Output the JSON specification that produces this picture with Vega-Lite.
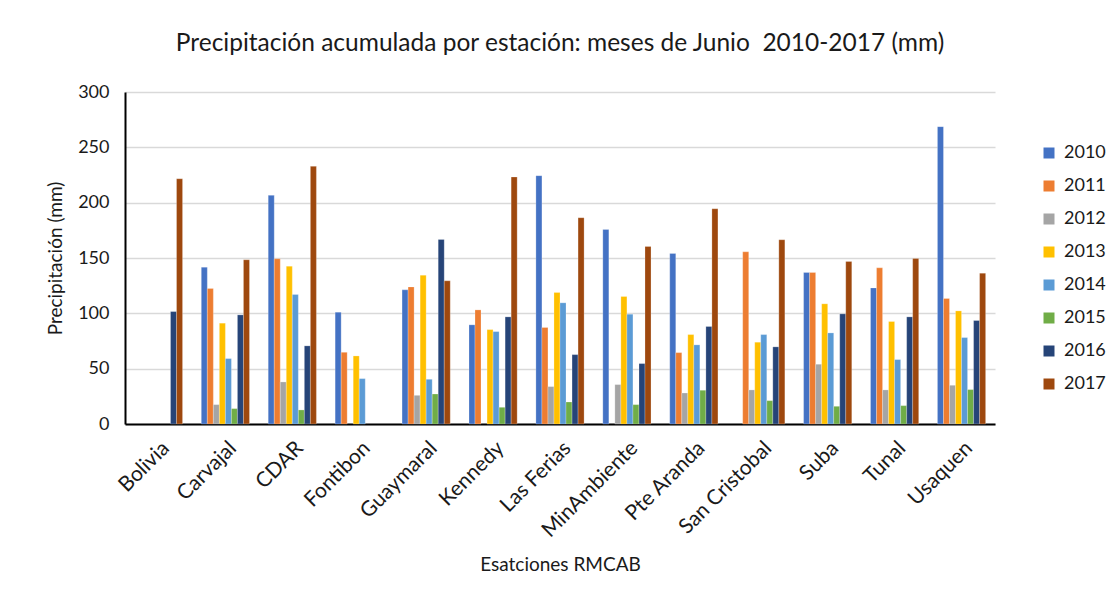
{
  "$schema": "https://vega.github.io/schema/vega-lite/v6.json",
  "autosize": "none",
  "width": 870,
  "height": 332,
  "padding": {"left": 125, "top": 92, "right": 113, "bottom": 179},
  "background": "white",
  "title": {
    "text": "Precipitación acumulada por estación: meses de Junio\u00a0 2010-2017 (mm)",
    "font": "Lato",
    "fontSize": 24.5,
    "fontWeight": "normal",
    "color": "#1a1a1a",
    "anchor": "middle",
    "offset": 27
  },
  "datasets": {
    "precip": [
      {"estacion": "Bolivia", "anio": "2016", "mm": 101.6},
      {"estacion": "Bolivia", "anio": "2017", "mm": 221.6},
      {"estacion": "Carvajal", "anio": "2010", "mm": 141.7},
      {"estacion": "Carvajal", "anio": "2011", "mm": 122.4},
      {"estacion": "Carvajal", "anio": "2012", "mm": 17.5},
      {"estacion": "Carvajal", "anio": "2013", "mm": 91.1},
      {"estacion": "Carvajal", "anio": "2014", "mm": 59.1},
      {"estacion": "Carvajal", "anio": "2015", "mm": 13.9},
      {"estacion": "Carvajal", "anio": "2016", "mm": 98.6},
      {"estacion": "Carvajal", "anio": "2017", "mm": 148.4},
      {"estacion": "CDAR", "anio": "2010", "mm": 206.6},
      {"estacion": "CDAR", "anio": "2011", "mm": 149.3},
      {"estacion": "CDAR", "anio": "2012", "mm": 38.0},
      {"estacion": "CDAR", "anio": "2013", "mm": 142.6},
      {"estacion": "CDAR", "anio": "2014", "mm": 117.0},
      {"estacion": "CDAR", "anio": "2015", "mm": 12.7},
      {"estacion": "CDAR", "anio": "2016", "mm": 70.6},
      {"estacion": "CDAR", "anio": "2017", "mm": 232.8},
      {"estacion": "Fontibon", "anio": "2010", "mm": 101.0},
      {"estacion": "Fontibon", "anio": "2011", "mm": 64.8},
      {"estacion": "Fontibon", "anio": "2013", "mm": 61.5},
      {"estacion": "Fontibon", "anio": "2014", "mm": 41.0},
      {"estacion": "Guaymaral", "anio": "2010", "mm": 121.2},
      {"estacion": "Guaymaral", "anio": "2011", "mm": 123.9},
      {"estacion": "Guaymaral", "anio": "2012", "mm": 25.9},
      {"estacion": "Guaymaral", "anio": "2013", "mm": 134.5},
      {"estacion": "Guaymaral", "anio": "2014", "mm": 40.4},
      {"estacion": "Guaymaral", "anio": "2015", "mm": 27.1},
      {"estacion": "Guaymaral", "anio": "2016", "mm": 166.8},
      {"estacion": "Guaymaral", "anio": "2017", "mm": 129.4},
      {"estacion": "Kennedy", "anio": "2010", "mm": 89.6},
      {"estacion": "Kennedy", "anio": "2011", "mm": 103.1},
      {"estacion": "Kennedy", "anio": "2013", "mm": 85.3},
      {"estacion": "Kennedy", "anio": "2014", "mm": 83.5},
      {"estacion": "Kennedy", "anio": "2015", "mm": 15.1},
      {"estacion": "Kennedy", "anio": "2016", "mm": 96.8},
      {"estacion": "Kennedy", "anio": "2017", "mm": 223.2},
      {"estacion": "Las Ferias", "anio": "2010", "mm": 224.4},
      {"estacion": "Las Ferias", "anio": "2011", "mm": 87.2},
      {"estacion": "Las Ferias", "anio": "2012", "mm": 33.8},
      {"estacion": "Las Ferias", "anio": "2013", "mm": 118.8},
      {"estacion": "Las Ferias", "anio": "2014", "mm": 109.5},
      {"estacion": "Las Ferias", "anio": "2015", "mm": 19.9},
      {"estacion": "Las Ferias", "anio": "2016", "mm": 62.7},
      {"estacion": "Las Ferias", "anio": "2017", "mm": 186.4},
      {"estacion": "MinAmbiente", "anio": "2010", "mm": 175.8},
      {"estacion": "MinAmbiente", "anio": "2012", "mm": 35.6},
      {"estacion": "MinAmbiente", "anio": "2013", "mm": 115.2},
      {"estacion": "MinAmbiente", "anio": "2014", "mm": 99.2},
      {"estacion": "MinAmbiente", "anio": "2015", "mm": 17.5},
      {"estacion": "MinAmbiente", "anio": "2016", "mm": 54.6},
      {"estacion": "MinAmbiente", "anio": "2017", "mm": 160.4},
      {"estacion": "Pte Aranda", "anio": "2010", "mm": 154.1},
      {"estacion": "Pte Aranda", "anio": "2011", "mm": 64.5},
      {"estacion": "Pte Aranda", "anio": "2012", "mm": 28.0},
      {"estacion": "Pte Aranda", "anio": "2013", "mm": 80.8},
      {"estacion": "Pte Aranda", "anio": "2014", "mm": 71.5},
      {"estacion": "Pte Aranda", "anio": "2015", "mm": 30.5},
      {"estacion": "Pte Aranda", "anio": "2016", "mm": 88.1},
      {"estacion": "Pte Aranda", "anio": "2017", "mm": 194.5},
      {"estacion": "San Cristobal", "anio": "2011", "mm": 155.6},
      {"estacion": "San Cristobal", "anio": "2012", "mm": 30.8},
      {"estacion": "San Cristobal", "anio": "2013", "mm": 73.9},
      {"estacion": "San Cristobal", "anio": "2014", "mm": 80.8},
      {"estacion": "San Cristobal", "anio": "2015", "mm": 21.1},
      {"estacion": "San Cristobal", "anio": "2016", "mm": 69.7},
      {"estacion": "San Cristobal", "anio": "2017", "mm": 166.5},
      {"estacion": "Suba", "anio": "2010", "mm": 136.9},
      {"estacion": "Suba", "anio": "2011", "mm": 136.9},
      {"estacion": "Suba", "anio": "2012", "mm": 54.0},
      {"estacion": "Suba", "anio": "2013", "mm": 108.6},
      {"estacion": "Suba", "anio": "2014", "mm": 82.3},
      {"estacion": "Suba", "anio": "2015", "mm": 16.0},
      {"estacion": "Suba", "anio": "2016", "mm": 99.5},
      {"estacion": "Suba", "anio": "2017", "mm": 146.9},
      {"estacion": "Tunal", "anio": "2010", "mm": 123.0},
      {"estacion": "Tunal", "anio": "2011", "mm": 141.1},
      {"estacion": "Tunal", "anio": "2012", "mm": 30.8},
      {"estacion": "Tunal", "anio": "2013", "mm": 92.6},
      {"estacion": "Tunal", "anio": "2014", "mm": 58.2},
      {"estacion": "Tunal", "anio": "2015", "mm": 16.6},
      {"estacion": "Tunal", "anio": "2016", "mm": 96.8},
      {"estacion": "Tunal", "anio": "2017", "mm": 149.6},
      {"estacion": "Usaquen", "anio": "2010", "mm": 268.7},
      {"estacion": "Usaquen", "anio": "2011", "mm": 113.4},
      {"estacion": "Usaquen", "anio": "2012", "mm": 35.0},
      {"estacion": "Usaquen", "anio": "2013", "mm": 102.2},
      {"estacion": "Usaquen", "anio": "2014", "mm": 78.1},
      {"estacion": "Usaquen", "anio": "2015", "mm": 31.1},
      {"estacion": "Usaquen", "anio": "2016", "mm": 93.5},
      {"estacion": "Usaquen", "anio": "2017", "mm": 136.3}
    ]
  },
  "data": {"name": "precip"},
  "mark": {"type": "bar", "stroke": "white", "strokeWidth": 0.4, "strokeOpacity": 0.6},
  "encoding": {
    "x": {
      "field": "estacion",
      "type": "nominal",
      "sort": ["Bolivia", "Carvajal", "CDAR", "Fontibon", "Guaymaral", "Kennedy", "Las Ferias", "MinAmbiente", "Pte Aranda", "San Cristobal", "Suba", "Tunal", "Usaquen"],
      "scale": {"paddingInner": 0.28, "paddingOuter": 0.14},
      "axis": {
        "title": "Esatciones RMCAB",
        "titleFont": "Lato",
        "titleFontSize": 19,
        "titleFontWeight": "normal",
        "titleColor": "#1a1a1a",
        "titlePadding": 15,
        "labelFont": "Lato",
        "labelFontSize": 21,
        "labelColor": "#1a1a1a",
        "labelAngle": -45,
        "labelPadding": 13,
        "ticks": false,
        "domainColor": "#000000",
        "domainWidth": 2,
        "grid": false
      }
    },
    "xOffset": {
      "field": "anio",
      "type": "nominal",
      "scale": {"domain": ["2010", "2011", "2012", "2013", "2014", "2015", "2016", "2017"], "paddingInner": 0, "paddingOuter": 0}
    },
    "y": {
      "field": "mm",
      "type": "quantitative",
      "scale": {"domain": [0, 300], "nice": false},
      "axis": {
        "title": "Precipitación (mm)",
        "titleFont": "Lato",
        "titleFontSize": 19,
        "titleFontWeight": "normal",
        "titleColor": "#1a1a1a",
        "titlePadding": 12,
        "labelFont": "Lato",
        "labelFontSize": 18,
        "labelColor": "#1a1a1a",
        "labelPadding": 16,
        "values": [0, 50, 100, 150, 200, 250, 300],
        "ticks": false,
        "domainColor": "#000000",
        "domainWidth": 2,
        "gridColor": "#d9d9d9",
        "gridWidth": 1.5
      }
    },
    "color": {
      "field": "anio",
      "type": "nominal",
      "scale": {
        "domain": ["2010", "2011", "2012", "2013", "2014", "2015", "2016", "2017"],
        "range": ["#4472c4", "#ed7d31", "#a5a5a5", "#ffc000", "#5b9bd5", "#70ad47", "#264478", "#9e480e"]
      },
      "legend": {
        "title": null,
        "orient": "none",
        "legendX": 915,
        "legendY": 52,
        "symbolType": "square",
        "symbolSize": 121,
        "symbolStrokeWidth": 0,
        "labelFont": "Lato",
        "labelFontSize": 18,
        "labelColor": "#1a1a1a",
        "labelOffset": 6,
        "rowPadding": 15
      }
    }
  },
  "config": {
    "view": {"stroke": null}
  }
}
